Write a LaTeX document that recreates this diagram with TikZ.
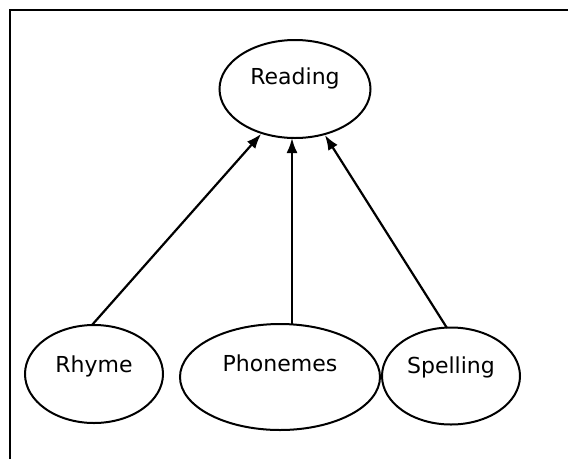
\documentclass[tikz,border=0pt]{standalone}
\usepackage{fontspec}
\setmainfont{DejaVu Sans}
\usetikzlibrary{shapes.geometric,arrows.meta}
\begin{document}
\begin{tikzpicture}[x=1pt,y=-1pt,
  oval/.style={draw, line width=2pt, ellipse, inner sep=0pt},
  lbl/.style={font=\fontsize{22}{26}\selectfont},
  link/.style={line width=2.2pt, -{Latex[length=15pt,width=11pt]}}]
\useasboundingbox (0,0) rectangle (568,459);
\draw[line width=2.5pt] (10,459) -- (10,10) -- (568,10);
\node[oval, minimum width=151pt, minimum height=98pt] (reading) at (295,89) {};
\node[oval, minimum width=138pt, minimum height=98pt] (rhyme) at (94,374) {};
\node[oval, minimum width=200pt, minimum height=106pt] (phon) at (280,377) {};
\node[oval, minimum width=138pt, minimum height=97pt] (spell) at (451,376) {};
\node[lbl] (treading) at (295,78) {Reading};
\node[lbl] (trhyme) at (94,366) {Rhyme};
\node[lbl] (tphon) at (280,363) {Phonemes};
\node[lbl] (tspell) at (451,367) {Spelling};
\coordinate (rhs) at (92,325);
\coordinate (phs) at (292,325);
\coordinate (sps) at (447,328);
\draw[link] (rhs) -- (reading.{-127});
\draw[link] (phs) -- (292,138);
\draw[link] (sps) -- (reading.{-57});
\end{tikzpicture}
\end{document}
